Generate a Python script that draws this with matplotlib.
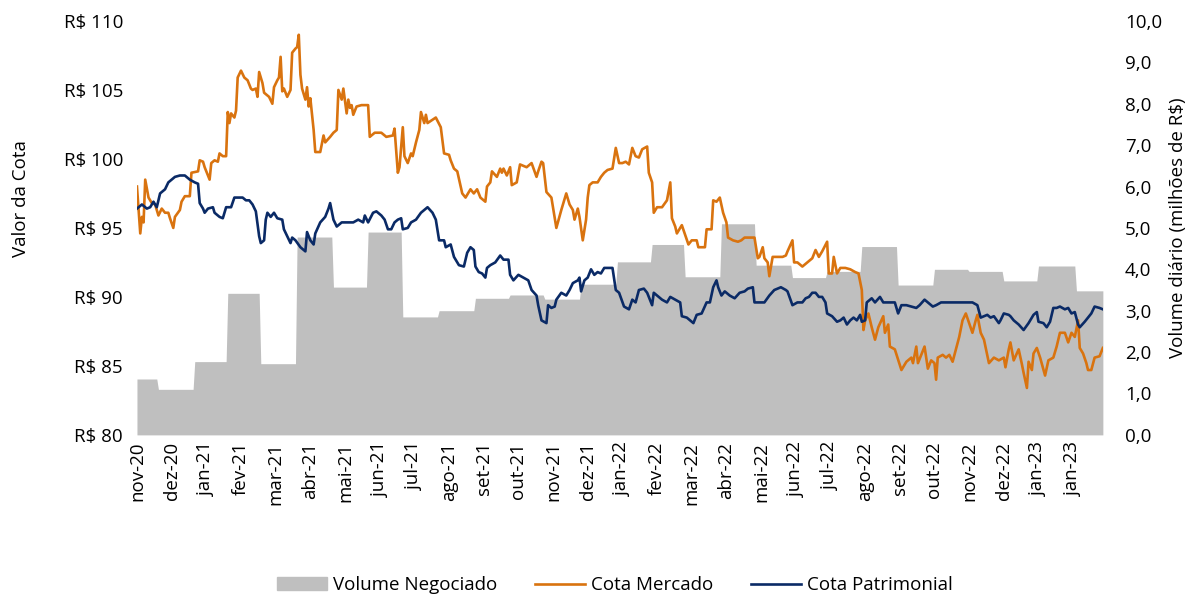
import numpy as np
import matplotlib.pyplot as plt
from matplotlib.ticker import FuncFormatter
from matplotlib.patches import Patch
from matplotlib.lines import Line2D

plt.rcParams['font.family'] = ['Open Sans', 'DejaVu Sans']

# rotulos do eixo x (a cada 21 pregoes)
rotulos = ['nov-20', 'dez-20', 'jan-21', 'fev-21', 'mar-21', 'abr-21', 'mai-21', 'jun-21',
           'jul-21', 'ago-21', 'set-21', 'out-21', 'nov-21', 'dez-21', 'jan-22', 'fev-22',
           'mar-22', 'abr-22', 'mai-22', 'jun-22', 'jul-22', 'ago-22', 'set-22', 'out-22',
           'nov-22', 'dez-22', 'jan-23', 'jan-23']

# volume medio diario por mes (milhoes de R$) e pregoes por mes
volume_mensal = [1.35, 1.10, 1.77, 3.42, 1.72, 4.78, 3.57, 4.90, 2.85, 3.00, 3.30, 3.38,
                 3.28, 3.64, 4.18, 4.60, 3.82, 5.10, 4.10, 3.80, 3.95, 4.55, 3.62, 4.00,
                 3.95, 3.72, 4.08, 3.48]
pregoes_mes = [13, 22, 20, 20, 22, 22, 21, 21, 22, 22, 21, 21, 22, 22, 21, 20, 22, 21, 22,
               21, 21, 22, 22, 21, 21, 21, 23, 17]

# cota mercado (pregao, R$)
dias_mercado = [0, 2, 3, 4, 5, 7, 9, 11, 13, 15, 17, 19, 20, 22, 23, 26, 27, 29, 32, 33, 37, 38,
                40, 41, 44, 45, 47, 49, 50, 52, 54, 55, 56, 57, 59, 60, 61, 63, 65, 67, 69, 70,
                72, 73, 74, 76, 77, 80, 82, 83, 85, 86, 87, 88, 89, 91, 93, 94, 96, 97, 98, 99,
                100, 102, 103, 104, 105, 107, 108, 111, 113, 114, 117, 119, 121, 122, 124, 125,
                127, 128, 129, 130, 131, 133, 136, 140, 141, 144, 148, 151, 155, 156, 158, 159,
                161, 162, 164, 166, 167, 169, 171, 172, 174, 175, 176, 181, 184, 186, 189, 190,
                192, 194, 197, 199, 202, 204, 206, 208, 211, 212, 214, 215, 218, 220, 221, 222,
                224, 226, 227, 230, 232, 236, 239, 242, 243, 245, 246, 248, 251, 254, 257, 260,
                262, 264, 265, 267, 268, 270, 272, 273, 274, 276, 279, 281, 283, 285, 288, 290,
                292, 294, 296, 298, 300, 302, 304, 306, 309, 310, 312, 313, 315, 318, 321, 323,
                324, 326, 327, 330, 332, 334, 336, 339, 340, 344, 345, 348, 349, 351, 353, 355,
                357, 358, 361, 364, 366, 368, 371, 374, 376, 377, 379, 380, 382, 383, 385, 388,
                391, 393, 394, 397, 398, 400, 403, 406, 409, 411, 413, 415, 418, 419, 421, 422,
                424, 426, 429, 432, 435, 437, 439, 440, 441, 443, 445, 447, 449, 452, 453, 455,
                456, 459, 463, 466, 469, 470, 472, 473, 477, 479, 481, 483, 484, 485, 488, 490,
                492, 494, 496, 498, 500, 502, 504, 506, 508, 509, 511, 513, 516, 519, 522, 525,
                526, 528, 529, 531, 534, 536, 537, 539, 540, 542, 543, 545, 547, 550, 552, 555,
                557, 559, 562, 564, 566, 568, 570, 571, 573, 575, 576, 578, 580, 583, 585]
cota_mercado = [98.0, 94.6, 95.8, 95.4, 98.5, 97.2, 96.8, 96.7, 95.9, 96.4, 96.1, 96.1, 95.7, 95.0,
                95.8, 96.3, 96.9, 97.3, 97.3, 99.0, 99.1, 99.9, 99.8, 99.4, 98.5, 99.7, 99.9,
                99.8, 100.4, 100.2, 100.2, 103.4, 102.6, 103.3, 103.0, 103.5, 105.9, 106.4,
                105.9, 105.7, 105.1, 105.0, 105.1, 104.5, 106.3, 105.5, 104.8, 104.5, 104.0,
                105.2, 105.7, 105.9, 107.4, 104.9, 105.1, 104.5, 105.0, 107.7, 108.0, 108.1,
                109.0, 106.1, 105.1, 104.3, 105.2, 103.8, 104.4, 102.1, 100.5, 100.5, 101.7,
                101.2, 101.6, 101.9, 102.1, 105.0, 104.3, 105.1, 103.3, 104.3, 103.7, 103.9,
                103.2, 103.8, 103.9, 103.9, 101.6, 101.9, 101.9, 101.6, 101.7, 102.2, 99.0,
                99.4, 102.3, 100.2, 99.7, 100.4, 100.2, 101.2, 102.1, 103.4, 102.6, 103.2,
                102.6, 103.0, 102.3, 100.4, 100.3, 99.9, 99.3, 99.1, 97.5, 97.2, 97.8, 97.5,
                97.8, 97.2, 96.9, 98.0, 98.3, 99.1, 98.7, 99.3, 99.0, 99.3, 98.8, 99.4, 98.1,
                98.3, 99.6, 99.4, 99.7, 98.7, 99.1, 99.8, 99.7, 97.6, 97.2, 95.0, 96.3, 97.5,
                96.7, 96.3, 95.6, 96.4, 95.8, 94.1, 95.6, 97.2, 98.1, 98.3, 98.3, 98.7, 99.0,
                99.2, 99.3, 100.8, 99.7, 99.7, 99.8, 99.6, 100.8, 100.2, 100.1, 100.7, 100.9,
                99.0, 98.3, 96.1, 96.5, 96.5, 97.0, 98.3, 95.7, 95.1, 94.6, 95.2, 94.5, 93.8,
                94.1, 94.1, 93.6, 93.6, 94.9, 94.9, 97.0, 96.9, 97.2, 96.1, 95.4, 94.3, 94.1,
                94.0, 94.1, 94.3, 94.3, 94.3, 92.8, 92.9, 93.6, 92.8, 92.5, 91.5, 92.9, 92.9,
                92.9, 93.0, 93.3, 94.1, 92.5, 92.5, 92.2, 92.5, 92.8, 93.4, 92.9, 93.3, 94.0,
                91.7, 91.7, 92.9, 91.7, 92.1, 92.1, 92.0, 91.8, 91.7, 90.5, 87.6, 88.3, 88.8,
                87.8, 86.9, 87.8, 88.6, 87.4, 88.0, 86.4, 86.2, 84.7, 85.3, 85.6, 85.2, 86.4,
                85.2, 86.4, 84.8, 85.4, 85.2, 84.0, 85.6, 85.8, 85.6, 85.8, 85.3, 86.2, 87.1,
                88.3, 88.8, 88.1, 87.4, 88.3, 88.7, 87.4, 86.9, 85.2, 85.6, 85.4, 85.6, 84.9,
                86.2, 86.7, 85.4, 86.2, 85.1, 84.5, 83.4, 85.3, 84.7, 85.9, 86.3, 85.6, 84.3,
                85.4, 85.6, 86.4, 87.4, 87.4, 86.7, 87.4, 87.1, 88.3, 86.3, 85.9, 85.2, 84.7,
                84.7, 85.6, 85.7, 86.3]

# cota patrimonial (pregao, R$)
dias_patrimonial = [0, 3, 6, 8, 10, 12, 14, 17, 19, 23, 26, 29, 32, 35, 37, 38, 40, 41, 43, 46,
                    47, 50, 52, 54, 57, 59, 62, 64, 66, 68, 70, 72, 74, 75, 77, 78, 79, 81, 83,
                    85, 88, 89, 91, 93, 94, 96, 99, 102, 103, 105, 107, 108, 111, 114, 116, 117,
                    119, 121, 124, 128, 131, 134, 137, 138, 140, 143, 145, 148, 150, 152, 154,
                    156, 158, 160, 161, 164, 166, 169, 172, 175, 176, 179, 181, 183, 186, 187,
                    190, 192, 195, 198, 200, 202, 204, 205, 207, 209, 211, 212, 214, 217, 220,
                    222, 225, 226, 228, 231, 234, 237, 239, 242, 243, 245, 248, 249, 251, 253,
                    254, 257, 260, 262, 264, 267, 268, 269, 271, 273, 275, 277, 279, 281, 283,
                    286, 288, 290, 292, 295, 298, 300, 302, 304, 307, 309, 312, 313, 316, 318,
                    321, 323, 326, 329, 330, 333, 336, 337, 339, 342, 345, 347, 349, 351, 352,
                    354, 356, 359, 362, 365, 368, 370, 373, 374, 377, 380, 383, 386, 390, 393,
                    394, 397, 400, 403, 405, 407, 409, 411, 413, 415, 417, 418, 421, 424, 426,
                    428, 430, 432, 434, 436, 438, 439, 441, 442, 445, 447, 450, 452, 455, 458,
                    459, 461, 463, 466, 469, 472, 474, 477, 479, 482, 484, 487, 491, 494, 497,
                    500, 503, 506, 509, 511, 513, 515, 517, 519, 522, 523, 525, 528, 529, 531,
                    534, 537, 540, 542, 543, 545, 546, 549, 551, 553, 555, 557, 559, 562, 564,
                    566, 568, 570, 571, 574, 576, 578, 580, 583, 585]
cota_patrimonial = [96.4, 96.7, 96.4, 96.5, 96.9, 96.5, 97.5, 97.8, 98.3, 98.7, 98.8, 98.8, 98.5,
                    98.3, 98.2, 96.8, 96.4, 96.1, 96.4, 96.5, 96.1, 95.8, 95.7, 96.5, 96.5,
                    97.2, 97.2, 97.2, 97.0, 97.0, 96.7, 96.2, 94.4, 93.9, 94.1, 95.6, 96.1,
                    95.8, 96.1, 95.7, 95.6, 94.9, 94.4, 93.9, 94.3, 94.1, 93.6, 93.3, 94.7,
                    94.1, 93.8, 94.6, 95.4, 95.8, 96.4, 96.8, 95.6, 95.1, 95.4, 95.4, 95.4,
                    95.6, 95.4, 95.9, 95.4, 96.1, 96.2, 95.9, 95.6, 94.9, 94.9, 95.4, 95.6,
                    95.7, 94.9, 95.0, 95.4, 95.6, 96.1, 96.4, 96.5, 96.1, 95.6, 94.1, 94.1,
                    93.6, 93.8, 92.9, 92.3, 92.2, 93.2, 93.6, 93.4, 92.2, 91.8, 91.7, 91.4,
                    92.1, 92.3, 92.5, 93.0, 92.7, 92.7, 91.6, 91.2, 91.6, 91.4, 91.2, 90.5,
                    90.1, 89.4, 88.3, 88.1, 89.4, 89.2, 89.3, 89.8, 90.3, 90.1, 90.5, 91.0,
                    91.2, 91.4, 90.4, 91.2, 91.4, 92.0, 91.6, 91.8, 91.7, 92.1, 92.1, 92.1,
                    90.5, 90.3, 89.3, 89.1, 89.8, 89.6, 90.5, 90.6, 90.3, 89.4, 90.3, 90.0,
                    89.8, 89.6, 90.0, 89.8, 89.6, 88.6, 88.5, 88.2, 88.1, 88.7, 88.8, 89.6,
                    89.6, 90.7, 91.2, 90.7, 90.1, 90.4, 90.1, 89.9, 90.3, 90.4, 90.6, 90.7,
                    89.6, 89.6, 89.6, 90.1, 90.5, 90.7, 90.5, 90.4, 89.4, 89.6, 89.6, 89.9,
                    90.0, 90.3, 90.3, 90.0, 90.0, 89.6, 88.8, 88.6, 88.2, 88.3, 88.5, 88.0,
                    88.3, 88.5, 88.3, 88.7, 88.2, 88.3, 89.6, 89.9, 89.6, 90.0, 89.6, 89.6,
                    89.6, 89.6, 88.8, 89.4, 89.4, 89.3, 89.2, 89.4, 89.8, 89.6, 89.3, 89.4,
                    89.6, 89.6, 89.6, 89.6, 89.6, 89.6, 89.6, 89.4, 88.5, 88.6, 88.7, 88.5,
                    88.6, 88.1, 88.3, 88.8, 88.7, 88.6, 88.3, 88.0, 87.6, 88.1, 88.5, 88.7,
                    88.9, 88.2, 88.1, 87.8, 88.2, 89.2, 89.2, 89.3, 89.1, 89.2, 88.8, 88.9,
                    88.0, 87.8, 88.2, 88.5, 88.8, 89.3, 89.2, 89.1]

cinza = '#BFBFBF'
laranja = '#D9730F'
azul = '#0A2A66'

volume = np.repeat(volume_mensal, pregoes_mes)
dias = np.arange(len(volume))

fig = plt.figure(figsize=(11.91, 5.99), dpi=100)
ax = fig.add_axes([0.115, 0.274, 0.811, 0.691])
ax2 = ax.twinx()

ax2.fill_between(dias, 0, volume, color=cinza, linewidth=0)
ax.plot(dias_mercado, cota_mercado, color=laranja, lw=1.9)
ax.plot(dias_patrimonial, cota_patrimonial, color=azul, lw=1.9)

ax.set_zorder(ax2.get_zorder() + 1)
ax.patch.set_visible(False)

ax.set_xlim(0, len(volume) - 1)
ax.set_ylim(80, 110)
ax2.set_ylim(0, 10)
ax.set_yticks(range(80, 111, 5))
ax2.set_yticks(range(0, 11))
ax.yaxis.set_major_formatter(FuncFormatter(lambda v, p: f'R$ {v:.0f}'))
ax2.yaxis.set_major_formatter(FuncFormatter(lambda v, p: f'{v:.1f}'.replace('.', ',')))
ax.set_xticks(np.arange(len(rotulos)) * 21)
ax.set_xticklabels(rotulos, rotation=90)

for a in (ax, ax2):
    for s in a.spines.values():
        s.set_visible(False)
    a.tick_params(length=0, labelsize=13.5, colors='black')
ax.tick_params(axis='y', pad=10)
ax2.tick_params(axis='y', pad=16)
ax.tick_params(axis='x', pad=5)

ax.set_ylabel('Valor da Cota', fontsize=13.5)
ax.yaxis.set_label_coords(-0.111, 0.57)
ax2.set_ylabel('Volume diário (milhões de R$)', fontsize=13.5, labelpad=5)

handles = [Patch(color=cinza), Line2D([], [], color=laranja, lw=1.9),
           Line2D([], [], color=azul, lw=1.9)]
fig.legend(handles, ['Volume Negociado', 'Cota Mercado', 'Cota Patrimonial'],
           loc='lower center', bbox_to_anchor=(0.516, -0.02), ncol=3, frameon=False,
           fontsize=13.5, handlelength=2.7, columnspacing=2.0, handletextpad=0.3)

fig.savefig('out.png', dpi=100)
